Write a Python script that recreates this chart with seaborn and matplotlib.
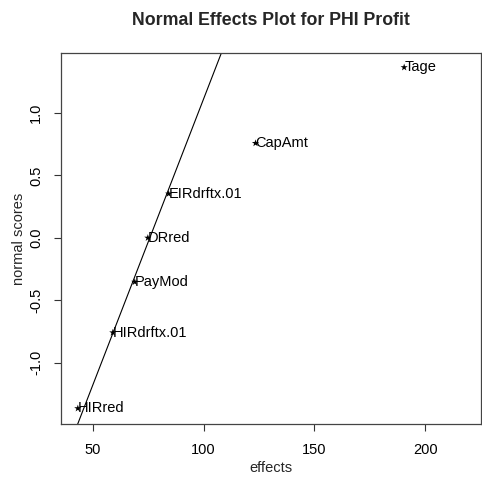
import pandas as pd
import matplotlib.pyplot as plt
import seaborn as sns

sns.set_theme(style="white")
plt.rcParams["font.family"] = ["Liberation Sans", "DejaVu Sans"]

factors = ["HIRred", "HIRdrftx.01", "PayMod", "DRred", "EIRdrftx.01", "CapAmt", "Tage"]
effects = [43.2, 59.0, 68.9, 74.8, 84.2, 123.4, 190.5]
normal_scores = [-1.365, -0.758, -0.353, 0.0, 0.353, 0.758, 1.365]

# reference line: scores = intercept + slope * effects
line_intercept = -3.466
line_slope = 0.0458

df = pd.DataFrame({"factor": factors, "effects": effects, "scores": normal_scores})

fig = plt.figure(figsize=(4.82, 4.78), dpi=100)
ax = fig.add_axes([61 / 482, 1 - 424 / 478, 1 - 61 / 482 - 0.002, (424 - 53) / 478])

sns.scatterplot(data=df, x="effects", y="scores", marker="*", s=30,
                color="black", edgecolor="none", ax=ax)

xlim = (35.6, 225.2)
ylim = (-1.49, 1.48)
xs = [xlim[0], xlim[1]]
ax.plot(xs, [line_intercept + line_slope * v for v in xs], color="black", lw=0.8)

for _, r in df.iterrows():
    ax.annotate(r["factor"], (r["effects"], r["scores"]), xytext=(0, 0),
                textcoords="offset points", ha="left", va="center",
                fontsize=10.5, color="black")

ax.set_xlim(*xlim)
ax.set_ylim(*ylim)
ax.set_xticks([50, 100, 150, 200])
ax.set_yticks([-1.0, -0.5, 0.0, 0.5, 1.0])
ax.set_yticklabels(["-1.0", "-0.5", "0.0", "0.5", "1.0"], rotation=90, va="center")
ax.tick_params(axis="both", direction="out", length=5, width=0.8, colors="#333333",
               labelsize=10.5, labelcolor="black", bottom=True, left=True)
ax.tick_params(axis="x", pad=9)
ax.tick_params(axis="y", pad=8)
for s in ax.spines.values():
    s.set_color("#444444")
    s.set_linewidth(0.9)

ax.set_xlabel("effects", fontsize=10.5, labelpad=2.5)
ax.set_ylabel("normal scores", fontsize=10.5, labelpad=2)
ax.set_title("Normal Effects Plot for PHI Profit", fontsize=12.8, fontweight="bold", pad=20)

fig.savefig("out.png", dpi=100)
